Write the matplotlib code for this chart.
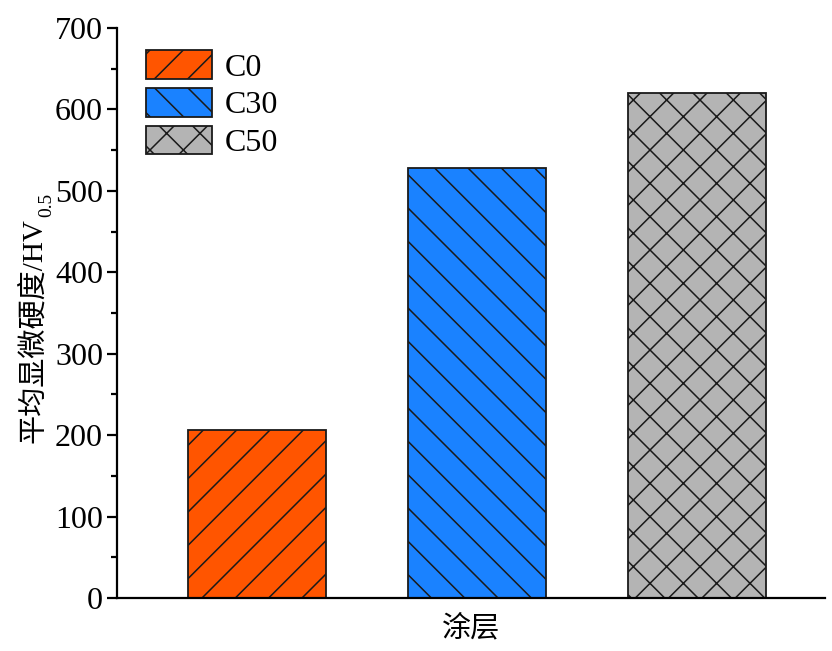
import matplotlib
matplotlib.use("Agg")
import matplotlib.pyplot as plt
import numpy as np

# data
coatings = ["C0", "C30", "C50"]
hardness = [206, 528, 620]
colors = ["#FF5500", "#1A82FF", "#B4B4B4"]
hatches = ["/", "\\", "x"]

plt.rcParams["font.family"] = ["Liberation Serif", "Noto Sans CJK SC"]
plt.rcParams["hatch.linewidth"] = 1.1
plt.rcParams["hatch.color"] = "#1a1a1a"

fig = plt.figure(figsize=(8.32, 6.51), dpi=100)
ax = fig.add_axes([0.1406, 0.0814, 0.851, 0.8756])

x = np.arange(len(coatings))
for i in range(len(coatings)):
    ax.bar(x[i], hardness[i], width=0.627, color=colors[i], hatch=hatches[i],
           edgecolor="#1a1a1a", linewidth=1.3, label=coatings[i])

ax.set_xlim(-0.636, 2.58)
ax.set_ylim(0, 700)
ax.set_yticks(np.arange(0, 701, 100))
ax.set_yticks(np.arange(50, 700, 100), minor=True)
ax.set_xticks([])

for side in ["top", "right"]:
    ax.spines[side].set_visible(False)
ax.spines["left"].set_linewidth(1.6)
ax.spines["bottom"].set_linewidth(1.6)
ax.tick_params(axis="y", which="major", direction="out", length=7, width=1.6, labelsize=23, pad=3)
ax.tick_params(axis="y", which="minor", direction="out", length=4, width=1.6)

ax.set_xlabel("涂层", fontsize=21, labelpad=12)
ylab = ax.set_ylabel("平均显微硬度/HV", fontsize=21, labelpad=6)
ylab.set_y(0.47)

leg = ax.legend(loc="upper left", bbox_to_anchor=(0.01, 1.0), frameon=False,
                fontsize=23, handlelength=2.05, handleheight=1.0,
                labelspacing=0.17, handletextpad=0.4, borderaxespad=0.3)

# subscript "0.5" at the end of the rotated y label
fig.canvas.draw()
bb = ylab.get_window_extent()
fw, fh = fig.bbox.width, fig.bbox.height
fig.text((bb.x1 - 9) / fw, (bb.y1 + 1) / fh, "0.5", fontsize=14, rotation=90,
         ha="left", va="bottom")

fig.savefig("out.png", dpi=100)
